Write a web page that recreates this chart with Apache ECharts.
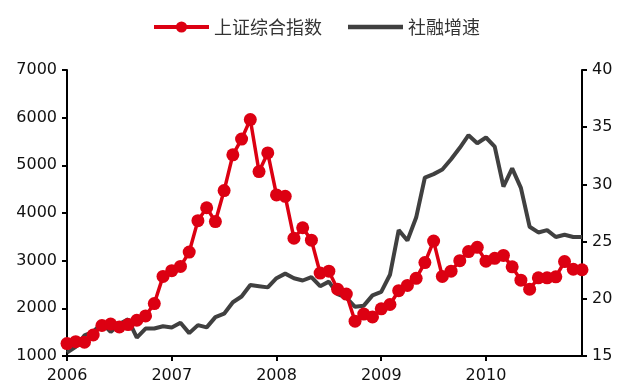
<!DOCTYPE html>
<html>
<head>
<meta charset="utf-8">
<script src="https://cdn.jsdelivr.net/npm/echarts@6/dist/echarts.min.js"></script>
<style>
  html, body { margin: 0; padding: 0; background: #fff; }
  #chart { width: 621px; height: 385px; }
</style>
</head>
<body>
<div id="chart"></div>
<script>
// Monthly points, Jan 2006 – Dec 2010
const years = [2006, 2007, 2008, 2009, 2010];
const months = [];
years.forEach(y => { for (let m = 1; m <= 12; m++) months.push(y + '-' + (m < 10 ? '0' + m : m)); });

// 上证综合指数 (month-end close)
const sseIndex = [
  1260, 1300, 1290, 1440, 1640, 1670, 1610, 1660, 1750, 1840, 2100, 2670,
  2790, 2880, 3180, 3840, 4110, 3820, 4470, 5220, 5550, 5960, 4870, 5260,
  4380, 4350, 3470, 3690, 3430, 2740, 2780, 2400, 2300, 1730, 1880, 1820,
  1990, 2080, 2370, 2480, 2630, 2960, 3410, 2670, 2780, 3000, 3190, 3280,
  2990, 3050, 3110, 2870, 2590, 2400, 2640, 2640, 2660, 2980, 2820, 2810
];

// 社融增速 (%)
const financingGrowth = [
  15.3, 15.8, 16.8, 17.1, 17.9, 17.1, 17.8, 18.2, 16.6, 17.4, 17.4, 17.6,
  17.5, 17.9, 17.0, 17.7, 17.5, 18.4, 18.7, 19.7, 20.2, 21.2, 21.1, 21.0,
  21.8, 22.2, 21.8, 21.6, 21.9, 21.1, 21.5, 20.4, 20.1, 19.3, 19.4, 20.3,
  20.6, 22.1, 26.0, 25.1, 27.1, 30.6, 30.9, 31.3, 32.2, 33.2, 34.3, 33.6,
  34.1, 33.3, 29.8, 31.4, 29.7, 26.3, 25.8, 26.0, 25.4, 25.6, 25.4, 25.4
];

const chart = echarts.init(document.getElementById('chart'));
const axisFont = { fontFamily: '"DejaVu Sans", sans-serif', fontSize: 16, color: '#111' };
const yearTick = (i) => i % 12 === 0;
const RED = '#DC0012';
const GREY = '#404040';

chart.setOption({
  animation: false,
  legend: {
    top: 13,
    left: 147,
    itemGap: 26,
    itemWidth: 55,
    itemHeight: 14,
    textStyle: { fontFamily: '"Noto Sans CJK SC", sans-serif', fontSize: 18, color: '#333' },
    data: [
      { name: '上证综合指数', lineStyle: { width: 4 } },
      { name: '社融增速', icon: 'path://M0,0 L55,0 L55,4.5 L0,4.5 Z' }
    ]
  },
  grid: { left: 67, right: 39, top: 70, bottom: 29 },
  xAxis: {
    type: 'category',
    data: months,
    boundaryGap: false,
    axisLine: { lineStyle: { color: '#000', width: 2 } },
    axisTick: { interval: yearTick, length: 5, lineStyle: { color: '#000', width: 2 } },
    axisLabel: Object.assign({ interval: yearTick, margin: 12, formatter: v => v.slice(0, 4) }, axisFont),
    splitLine: { show: false }
  },
  yAxis: [
    {
      type: 'value', min: 1000, max: 7000, interval: 1000,
      axisLine: { show: true, lineStyle: { color: '#000', width: 2 } },
      axisTick: { show: true, length: 5, lineStyle: { color: '#000', width: 2 } },
      axisLabel: Object.assign({ margin: 10, formatter: v => String(v) }, axisFont),
      splitLine: { show: false }
    },
    {
      type: 'value', min: 15, max: 40, interval: 5, position: 'right',
      axisLine: { show: true, lineStyle: { color: '#000', width: 2 } },
      axisTick: { show: true, length: 5, lineStyle: { color: '#000', width: 2 } },
      axisLabel: Object.assign({ margin: 10, formatter: v => String(v) }, axisFont),
      splitLine: { show: false }
    }
  ],
  series: [
    {
      name: '上证综合指数',
      type: 'line',
      yAxisIndex: 0,
      data: sseIndex,
      symbol: 'circle',
      symbolSize: 13,
      showAllSymbol: true,
      itemStyle: { color: RED },
      lineStyle: { color: RED, width: 3.5 },
      z: 3
    },
    {
      name: '社融增速',
      type: 'line',
      yAxisIndex: 1,
      data: financingGrowth,
      symbol: 'none',
      showSymbol: false,
      itemStyle: { color: GREY },
      lineStyle: { color: GREY, width: 4 },
      z: 2
    }
  ]
});
</script>
</body>
</html>
